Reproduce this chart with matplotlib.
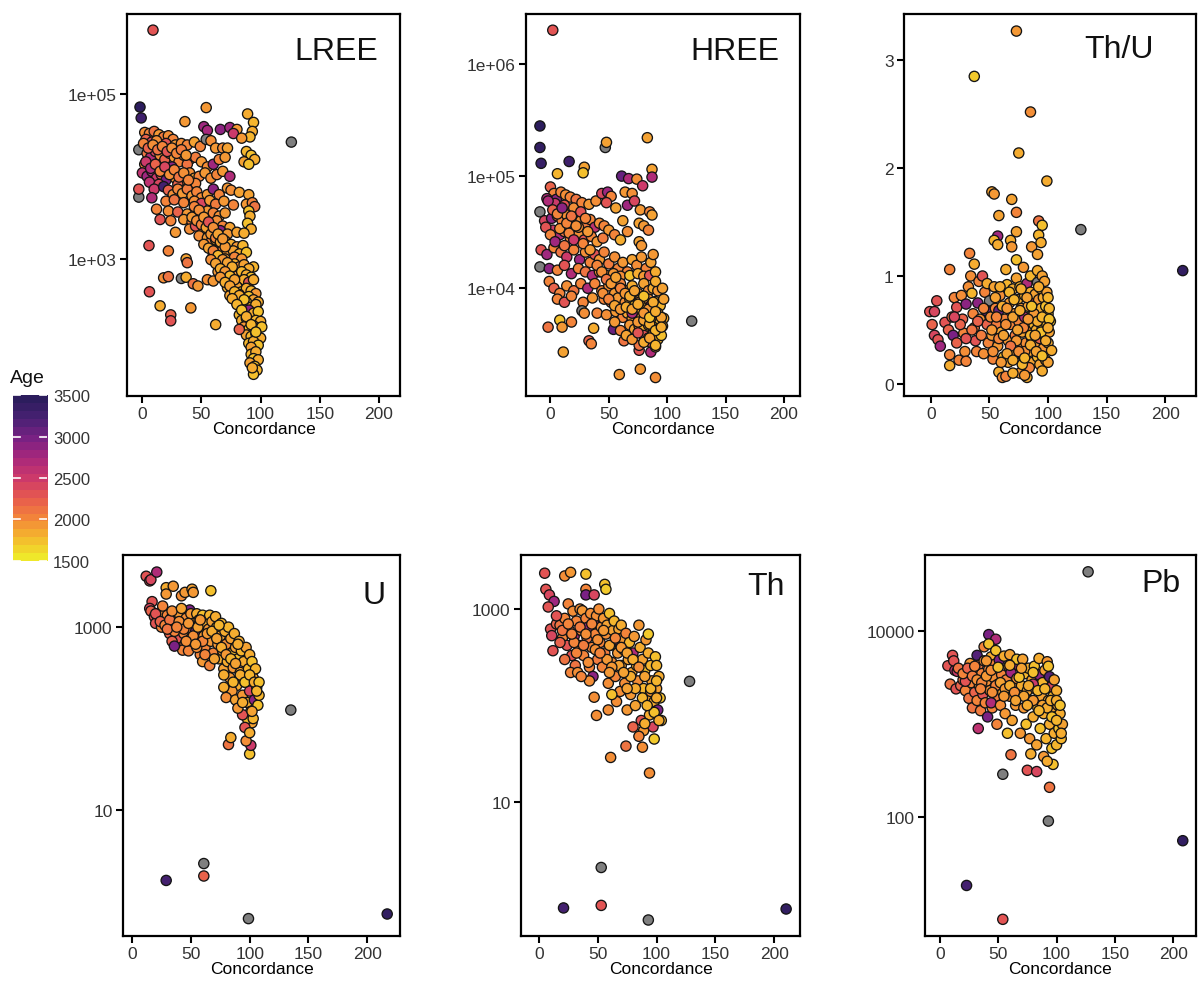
import numpy as np
import matplotlib
matplotlib.use("Agg")
import matplotlib.pyplot as plt
from matplotlib.colors import LinearSegmentedColormap, Normalize

plt.rcParams['font.family'] = ['Liberation Sans', 'DejaVu Sans']
nan = np.nan

# ---------------- LREE ----------------
lree_conc = [
    9, -2, -1, 126, -3, -3,
    54, 89, 94, 93, 91, 36, 52, 55, 66, 74, 80, 77, 84,
    5.6, 6, 15, 24, 24, 41, 62, 22, 37, 38, 18, 22, 33, 37, 43, 47, 55, 60,
    2, 6, 10, 14, 18, 22, 26, 3, 8, 12, 20, 28, 33, 38, 44, 49, 54, 58, 62, 68, 72,
    4, 7, 11, 15, 19, 23, 27, 31, 35, 40, 45, 50, 55, 60, 65, 70, 88, 92, 95, 86, 90, 2, 12, 25, 38,
    0, 4, 8, 12, 16, 20, 24, 28, 32, 36, 40, 44, 48, 53, 58, 63, 68, 74, 6, 14, 30, 45,
    -3, 10, 18, 22, 26, 30, 34, 38, 42, 46, 50, 55, 60, 65, 72, 75, 82, 90, 8, 20, 27, 35, 44, 50, 57, 62, 69, 77, 88, 93, 95,
    12, 22, 30, 38, 45, 50, 55, 60, 65, 70, 90, 91, 15, 24, 35, 42, 48, 53, 58, 63, 68, 74, 89, 92, 40, 45, 52, 60, 66, 72, 80, 86, 28,
    48, 55, 58, 62, 66, 70, 75, 80, 85, 68, 72, 77, 82, 88, 60, 64, 70, 78, 84, 94,
    62, 66, 70, 74, 78, 82, 86, 90, 64, 68, 72, 76, 80, 84, 88, 92, 70, 74, 78, 82, 86, 90, 94,
    72, 76, 80, 84, 88, 92, 96, 74, 78, 82, 86, 90, 94, 98, 80, 84, 88, 92, 96, 86, 90, 94, 98, 82,
    84, 88, 92, 96, 100, 86, 90, 94, 98, 88, 92, 96, 100, 90, 94, 98, 92, 101, 82,
    92, 96, 94, 98, 91, 95, 97, 94, 93,
    42, 46, 50, 54, 58, 62, 66, 70, 44, 48, 52, 56, 60, 64, 68, 52, 56, 60, 64, 68, 72, 76, 58, 62, 66, 70, 74, 78, 66, 70, 74, 78, 82, 86, 76, 80, 84, 88, 92, 96,
    1, 5, 9, 13, 17, 21, 25, 29, 33, 37, 3, 7, 11, 15, 19, 23, 27, 31, 35, 39,
]
lree_val = [
    590000, 69000, 51000, 26000, 21000, 5600,
    68000, 57000, 45000, 35000, 30000, 46000, 40000, 36000, 37000, 39000, 37000, 33000, 29000,
    1450, 400, 270, 210, 178, 255, 160, 1250, 1000, 900, 590, 610, 580, 600, 500, 470, 560, 540,
    34000, 33000, 35000, 32000, 30000, 31000, 28000, 28000, 26000, 27000, 25000, 24000, 25000, 24000, 26000, 23000, 28000, 27000, 22000, 22000, 22000,
    19000, 17000, 20000, 18000, 16000, 19000, 17000, 15000, 18000, 16000, 17000, 15000, 13000, 14000, 16000, 17000, 20000, 18000, 16000, 15000, 14000, 14000, 13000, 13000, 14000,
    11000, 10000, 11500, 9500, 10500, 9000, 11000, 9500, 10500, 9000, 11000, 9500, 10000, 11000, 9500, 10500, 11500, 10000, 8500, 8000, 8000, 8200,
    7000, 7000, 7500, 6800, 6000, 7000, 6200, 7000, 5800, 6500, 5500, 6000, 7000, 6000, 7200, 6800, 6400, 6000, 5500, 5000, 5200, 4800, 5000, 4700, 5100, 4600, 5000, 4500, 4600, 4800, 4300,
    4000, 3800, 3700, 3500, 4000, 3500, 3800, 3600, 3300, 3600, 3800, 3300, 3000, 2900, 3000, 2800, 3100, 2700, 2600, 2900, 2500, 2400, 2700, 2300, 2300, 2500, 2200, 2100, 2200, 2000, 2100, 2050, 2100,
    1900, 1800, 1600, 1700, 1500, 1650, 1500, 1400, 1450, 1300, 1200, 1250, 1150, 1200, 1150, 1050, 1000, 1050, 1000, 800,
    920, 850, 900, 820, 870, 800, 850, 760, 700, 650, 720, 680, 620, 700, 640, 600, 560, 520, 540, 500, 560, 520, 560,
    450, 420, 460, 400, 440, 410, 380, 360, 340, 370, 330, 350, 320, 300, 290, 270, 300, 260, 280, 230, 240, 220, 230, 210,
    180, 190, 170, 180, 175, 150, 140, 155, 145, 120, 115, 125, 110, 95, 100, 90, 85, 150, 140,
    70, 75, 62, 60, 55, 50, 45, 40, 48,
    3200, 2900, 2600, 2400, 2000, 1800, 1600, 1400, 4300, 3900, 3200, 2800, 2400, 2000, 1750, 1500, 1350, 1250, 1100, 980, 900, 800, 980, 880, 760, 700, 620, 560, 600, 520, 470, 400, 360, 320, 330, 280, 240, 200, 160, 130,
    25000, 22000, 24000, 21000, 23000, 20000, 22000, 19000, 21000, 18000, 15000, 12500, 14000, 11500, 13000, 10500, 12000, 9800, 11000, 9000,
]
lree_age = [
    2300, 3500, 3350, nan, nan, nan,
    1900, 1800, 1750, 1800, 1750, 1900, 2800, 2750, 2900, 2800, 1900, 2500, 1900,
    2300, 2300, 1800, 2200, 2300, 1900, 1800, 2000, 1850, 2100, 1950, 2100, nan, 1800, 2100, 1900, 1950, 1900,
    1950, 2000, 2100, 1900, 2050, 1950, 2000, 2200, 2400, 1950, 2300, 1900, 1950, 2000, 1850, 2000, nan, 1950, 1900, 1950, 1850,
    2100, 2700, 2400, 1950, 2200, 2000, 1900, 2000, 1950, 2000, 2050, 1900, 1950, 2800, 2000, 1900, 1750, 1700, 1800, 1850, 1700, 2000, 2200, 2900, 2100,
    2600, 2800, 2700, 2500, 2300, 3000, 2000, 1900, 2050, 2000, 1950, 1850, 2000, 1900, 1950, 2000, 1900, 2700, 2600, 2400, 2200, 2000,
    2300, 2500, 3300, 2200, 1950, 2000, 1900, 2050, 1900, 2000, 1950, 1900, 2900, 2000, 1900, 1950, 1850, 1850, 2700, 2000, 2100, 2000, 1950, 2400, 1900, 2050, 1900, 2000, 1900, 2000, 2100,
    2000, 1950, 2200, 1900, 1950, 2800, 1900, 2000, 1950, 1900, 1700, 1800, 2300, 2000, 1900, 2000, 1950, 2000, 3100, 1950, 2000, 1850, 1700, 1800, 1950, 2300, 1900, 1950, 2900, 1900, 1850, 1800, 1900,
    1950, 1900, 2000, 1850, 1900, 1950, 1800, 1900, 1750, 2000, 1900, 1850, 1800, 1700, 1950, 1900, 1850, 2000, 1900, 1750,
    1900, 1950, 1850, 1900, 1800, 1950, 1850, 1800, 1900, 1800, 1950, 1850, 1900, 1750, 1800, 1700, 1900, 1850, 1750, 1950, 1800, 2300, 1800,
    1800, 1900, 1850, 1700, 1800, 1750, 1900, 1850, 1750, 2200, 1800, 1700, 1850, 1800, 1800, 2100, 1700, 1750, 1800, 1850, 2900, 1800, 1700, 1750,
    1800, 1700, 1850, 1750, 1800, 1900, 1700, 1800, 1750, 1850, 1750, 1700, 1800, 1750, 1800, 1700, 1850, 1700, 2200,
    1750, 1800, 1700, 1800, 1850, 1700, 1750, 1700, 1800,
    1900, 1950, 2000, 1850, 1900, 2000, 1850, 1900, 2000, 1950, 1900, 2300, 1950, 1850, 1900, 1900, 1850, 2000, 1750, 1900, 1850, 1800, 1950, 1850, 1800, 1900, 1750, 1850, 1900, 1800, 1850, 1750, 1800, 1700, 1800, 1750, 1700, 1800, 1750, 1700,
    2000, 2200, 1950, 2100, 2000, 2300, 1950, 2000, 2050, 1900, 2500, 2700, 2200, 2000, 2400, 1950, 2000, 2100, 1950, 2000,
]

# ---------------- HREE ----------------
hree_conc = [
    2, -9, -9, -8, 16, 47, 48, 83, 121, -9, -9,
    6, 29, 28, 87, 87, 61, 67, 74, 79,
    11, 59, 77, 90, -2, 8, 10, 18, 33, 35, 37, 54, 63, 76, 76, 86,
    0, 3, -3, 5, 9, 13, 17, 22, 4, 12, 20, 27, 33, 39, 44, 49, 52, 48, 56, 64, 70, 66, 77, 72, 85, 87,
    -5, 1, 6, 10, 14, 18, 22, 26, 30, 34, 38, 42, 46, 50, 55, 62, 66, 76, 80, 84, 2, 8, 12, 17, 24, 29, 35, 40, 45, 60, 76, 78,
    -8, -3, 3, 9, 14, 20, 25, 30, 34, 38, 42, 46, 50, 55, 58, 62, 66, 70, 74, 78, 82, 86, 88, -1, 6, 12, 18, 24, 30, 36, 42, 48, 54, 60, 68, 75, 80, 85, 90,
    -1, 3, 8, 14, 20, 26, 32, 38, 44, 50, 55, 60, 65, 70, 75, 80, 84, 88, 92, 90, 96, 6, 12, 18, 28, 36, 46, 52, 58, 64, 68, 72, 76, 80, 84, 86, 90, 94, 97, 27, 29,
    40, 48, 56, 62, 66, 70, 74, 78, 82, 86, 90, 94, 97, 68, 72, 76, 80, 84, 88, 92, 96, 80, 84, 88, 92, 95, 86, 90,
    40, 44, 48, 52, 56, 60, 64, 68, 72, 76, 80, 84, 88, 92, 45, 50, 55, 60, 65, 70, 75, 80, 85, 90, 95, 55, 60, 65, 70, 75, 80, 85, 90, 95, 70, 75, 80, 85, 90,
    -4, 0, 4, 8, 12, 16, 20, 24, 28, 32, -2, 2, 6, 10, 14, 18, 22, 26, 30, 34,
]
hree_val = [
    2.0e6, 2.8e5, 1.8e5, 1.3e5, 1.35e5, 1.8e5, 2.0e5, 2.2e5, 5100, 48000, 15500,
    105000, 120000, 107000, 115000, 98000, 100000, 95000, 94000, 82000,
    2700, 1700, 1900, 1600, 4500, 5200, 4500, 5000, 3400, 3200, 4400, 4300, 3400, 2800, 3100, 2700,
    80000, 70000, 63000, 62000, 72000, 68000, 65000, 62000, 57000, 55000, 52000, 58000, 56000, 60000, 70000, 72000, 66000, 58000, 52000, 72000, 70000, 55000, 50000, 60000, 48000, 45000,
    40000, 42000, 44000, 40000, 45000, 38000, 43000, 40000, 37000, 41000, 35000, 38000, 36000, 33000, 30000, 40000, 32000, 38000, 36000, 33000, 33000, 30000, 32000, 28000, 30000, 27000, 29000, 26000, 28000, 27000, 26000, 24000,
    22000, 20000, 23000, 21000, 19000, 22000, 18000, 21000, 17000, 20000, 18000, 21000, 16500, 19000, 15000, 17000, 14000, 18000, 16000, 19000, 15000, 17000, 20000, 15000, 14500, 16000, 13500, 15000, 14000, 13000, 14000, 13000, 13500, 12800, 13000, 13500, 12800, 13000, 14000,
    11500, 10000, 9000, 10500, 9500, 11000, 10000, 11000, 9500, 10500, 9000, 11000, 9500, 10500, 9000, 11000, 9500, 10000, 9500, 11500, 10000, 8000, 7500, 8500, 7500, 8200, 8000, 7500, 8200, 7500, 8000, 7000, 7800, 7200, 8000, 7000, 7600, 7000, 8000, 6300, 6000,
    6000, 5800, 6200, 5500, 6000, 5400, 5900, 5500, 5700, 5200, 5500, 5000, 5400, 4700, 4300, 4600, 4300, 4700, 4500, 4300, 4600, 3800, 3600, 3900, 3500, 3800, 3300, 3000,
    16000, 14000, 12000, 11000, 12500, 10000, 9000, 8500, 9500, 7500, 8500, 6500, 7500, 6000, 9000, 8000, 7000, 6500, 6800, 6000, 5000, 5200, 4800, 4200, 5500, 5000, 4200, 3800, 3500, 4000, 3300, 3600, 3100, 4500, 6500, 7200, 6000, 5500, 6200,
    35000, 30000, 26000, 34000, 24000, 31000, 27000, 35000, 25000, 32000, 60000, 50000, 46000, 52000, 38000, 44000, 36000, 48000, 42000, 22000,
]
hree_age = [
    2300, 3500, 3450, 3400, 3350, nan, 1850, 1850, nan, nan, nan,
    1750, 1850, 1700, 1850, 2700, 3100, 2700, 1950, 2500,
    1850, 1900, 1900, 1950, 2100, 1700, 1900, 2000, 2200, 2000, 1800, 3100, 2100, 2300, 2100, 2700,
    2200, 2000, 2700, 2900, 2000, 1950, 2000, 2100, 2500, 2300, 1950, 2000, 1900, 1950, 2400, 2800, 2000, 2300, 1850, 1900, 1950, 2800, 1900, 2400, 2000, 1850,
    2400, 2900, 2200, 2000, 1950, 2100, 2000, 1950, 2050, 2000, 2600, 1950, 2000, 1900, 2000, 1850, 1950, 1850, 1900, 2000, 2500, 2700, 2100, 2000, 1950, 2300, 2000, 1900, 2050, 1800, 1850, 1900,
    2300, 2800, 2000, 2100, 2500, 2000, 2800, 1950, 2000, 2300, 1900, 2000, 2050, 1950, 2000, 1900, 2000, 1850, 1950, 1900, 2000, 1850, 1900, 2900, 2000, 2300, 2700, 2000, 2100, 2700, 1950, 2000, 1900, 1950, 1700, 1800, 1900, 2300, 1800,
    2000, 2200, 2000, 1950, 2100, 2000, 2700, 2000, 2000, 1950, 1900, 2000, 1950, 1800, 1900, 1850, 1950, 1800, 1900, 1800, 1850, 2000, 2300, 2000, 2000, 1900, 2000, 2100, 1900, 1950, 1800, 1700, 1900, 1850, 1950, 2800, 1800, 1750, 1850, nan, 1950,
    2000, 1950, 1900, 2000, 1850, 1900, 1750, 1850, 1900, 1800, 1850, 1750, 1800, 1900, 1850, 2000, 1800, 1900, 1800, 1700, 1850, 2300, 1950, 1800, 1750, 1700, 2300, 1850,
    2000, 1950, 2100, 1900, 1850, 2000, 1900, 1800, 1850, 1950, 1700, 1900, 1800, 1850, 1950, 2000, 1850, 1900, 1800, 2700, 1900, 1850, 1800, 1750, 1850, 1900, 2000, 1850, 1900, 2300, 1800, 1850, 1750, 1800, 1850, 1800, 1900, 1700, 1800,
    2300, 2000, 2800, 1950, 2100, 2000, 2500, 1950, 2000, 1900, 2700, 2200, 2000, 2900, 2000, 2100, 1950, 2300, 2000, 1900,
]

# ---------------- Th/U ----------------
thu_conc = [
    73, 37, 85, 75, 99, 52, 54, 69, 73, 58, 92, 95, 128, 215,
    57, 54, 57, 73, 68, 69, 86, 92, 94, 91, 33, 37, 16,
    -1, 3, 5, 1, 3, 6, 8, 12, 15, 16, 16, 18, 20, 22, 19, 22, 24, 26, 27, 28, 29, 30, 30,
    32, 34, 35, 36, 37, 38, 39, 40, 41, 42, 43, 44, 45, 46, 47, 48, 48, 49, 50, 51, 52, 53, 54, 55, 56, 57, 58, 58, 59, 60, 61, 62, 63, 64, 65, 66, 64,
    67, 68, 69, 70, 71, 72, 73, 73, 74, 74, 75, 76, 76, 77, 78, 79, 79, 80, 80, 81, 82, 82, 83, 83, 84, 85, 85, 86, 86, 87, 87, 88, 91, 89, 89, 90, 90, 91, 91, 92, 92, 93, 93, 94, 94, 95, 95, 96, 96, 97, 97, 98, 98, 99, 99, 100, 100, 101, 101, 102, 103, 100, 95, 84, 80, 70, 66, 78,
    52, 55, 58, 61, 64, 67, 70, 73, 76, 79, 82, 85, 88, 91, 94, 97, 100, 53, 56, 59, 62, 65, 68, 71, 74, 77, 80, 83, 86, 89, 92, 95, 98, 101, 60, 65, 70, 75, 80, 85, 90, 95, 100, 45, 40, 35, 30, 25, 20,
]
thu_val = [
    3.27, 2.85, 2.52, 2.14, 1.88, 1.78, 1.76, 1.71, 1.59, 1.56, 1.51, 1.47, 1.43, 1.05,
    1.37, 1.33, 1.29, 1.41, 1.33, 1.27, 1.27, 1.38, 1.31, 1.20, 1.21, 1.11, 1.06,
    0.67, 0.67, 0.77, 0.55, 0.45, 0.41, 0.35, 0.57, 0.50, 0.27, 0.17, 0.62, 0.80, 0.71, 0.45, 0.38, 0.22, 0.82, 0.60, 0.47, 0.30, 0.21, 0.74,
    0.90, 1.00, 0.84, 0.65, 0.52, 0.40, 0.30, 0.75, 0.95, 0.60, 0.45, 1.00, 0.28, 0.85, 0.68, 0.55, 0.93, 0.38, 0.77, 0.62, 0.45, 0.23, 0.90, 0.70, 0.55, 0.35, 0.68, 0.11, 0.82, 0.48, 0.06, 0.25, 0.60, 0.07, 0.92, 0.40, 1.06,
    0.75, 0.55, 0.30, 0.88, 0.65, 0.45, 1.15, 0.98, 0.78, 0.35, 0.58, 0.10, 0.90, 0.70, 0.48, 1.08, 0.25, 0.82, 0.62, 0.38, 0.93, 0.06, 0.72, 0.52, 0.30, 1.00, 0.85, 0.62, 0.42, 0.20, 0.75, 0.55, 0.94, 0.35, 0.83, 0.68, 0.50, 1.05, 0.25, 0.78, 0.60, 0.42, 0.18, 0.88, 0.70, 1.00, 0.52, 0.33, 0.80, 0.62, 0.45, 0.72, 0.22, 0.85, 0.55, 0.38, 0.65, 0.48, 0.70, 0.58, 0.31, 0.20, 0.12, 0.15, 0.08, 0.10, 0.20, 0.18,
    0.50, 0.80, 0.42, 0.72, 0.55, 0.85, 0.62, 0.40, 0.68, 0.52, 0.80, 0.45, 0.65, 0.58, 0.48, 0.95, 0.80, 0.30, 0.62, 0.90, 0.45, 0.70, 0.35, 0.78, 0.50, 0.88, 0.30, 0.60, 0.72, 0.45, 0.90, 0.62, 0.40, 0.60, 0.20, 0.28, 0.22, 0.30, 0.24, 0.36, 0.30, 0.26, 0.52, 0.70, 0.58, 0.50, 0.42, 0.55, 0.62,
]
thu_age = [
    1900, 1650, 1950, 1800, 1800, 1850, 1900, 1850, 2000, 1850, 2100, 1700, nan, 3450,
    2800, 1750, 1800, 1850, 1800, 1900, 1900, 1750, 1800, 1850, 2000, 1800, 2000,
    2300, 2400, 2300, 2200, 2400, 2300, 2800, 2300, 2200, 2000, 1800, 2100, 2000, 2300, 3000, 2200, 2000, 1950, 2200, 2000, 1950, 2000, 2900,
    1950, 1950, 1750, 2000, 2100, 2300, 2000, 2900, 2000, 1950, 2050, 2300, 1950, 2000, 3000, 2200, 1800, 2000, nan, 1950, 1900, 2000, 1850, 2000, 2050, 1900, 3100, 1800, 1950, 1850, 1950, 1750, 2000, 2000, 1750, 1900, 1800,
    1900, 2000, 1850, 1800, 1950, 2050, 1700, 1850, 1800, 1900, 2000, 1900, 1750, 1900, 1850, 1900, 2000, 1800, 2700, 1950, 2700, 1800, 1850, 1900, 1850, 1750, 1800, 2000, 1950, 1850, 2500, 1750, nan, 1900, 1850, 2800, 1800, 1800, 1750, 1900, 1850, 2200, 1850, 1750, 1800, 1850, 1700, 1900, 1800, 1750, 1850, 1700, 1800, 1850, 1750, 1800, 1700, 1850, 1750, 1700, 1800, 1850, 1800, 2000, 1900, 1800, 1850, 1750,
    1900, 1850, 2000, 1800, 1950, 1750, 1850, 1900, 1800, 2000, 1850, 1750, 1900, 1800, 1700, 1850, 1750, 1950, 2000, 1800, 1850, 1900, 2100, 1750, 1850, 1800, 1950, 1900, 1700, 1850, 1800, 1750, 1800, 1700, 1900, 1850, 1800, 1950, 1750, 1800, 1850, 1700, 1800, 2000, 2200, 2100, 2300, 2200, 2400,
]

# ---------------- U ----------------
u_conc = [
    12, 15, 16, 21, 29, 61, 61, 99, 217, 135, 100, 82, 84, 101, 97,
    29, 35, 29, 42, 45, 51, 52, 67, 49, 17, 15,
    16, 19, 22, 24, 26, 28, 30, 20, 25, 30, 33,
    32, 34, 36, 38, 38, 40, 42, 44, 45, 46, 48, 50, 50, 43, 34, 48, 36,
    52, 54, 55, 56, 57, 58, 59, 60, 61, 62, 63, 64, 65, 66, 67, 68, 69, 70, 55, 60, 66,
    71, 72, 73, 74, 75, 76, 77, 78, 79, 80, 81, 82, 83, 84, 85, 86, 87, 88, 89, 90, 85, 78, 80, 88,
    91, 92, 93, 94, 95, 96, 97, 98, 99, 100, 100, 101, 102, 103, 104, 105, 106, 107, 108, 102, 98, 94, 90, 96, 100, 103,
    20, 24, 28, 32, 36, 40, 44, 48, 52, 56, 60, 64, 68, 72, 76, 80, 84, 88, 92, 96, 100, 104, 30, 38, 46, 54, 62, 70, 78, 86, 94, 102, 108, 26, 34, 42, 58, 74, 90, 106,
]
u_val = [
    3600, 3200, 3300, 4000, 1.7, 2.6, 1.9, 0.65, 0.73, 124, 41, 52, 62, 51, 57,
    2700, 2800, 2300, 2200, 2400, 2600, 2400, 2500, 1540, 1900, 1600,
    1500, 1300, 1250, 1450, 1200, 1400, 1100, 1100, 1000, 1350, 1000,
    850, 1300, 1150, 950, 750, 1400, 1050, 850, 650, 1250, 980, 750, 1400, 560, 700, 550, 620,
    1100, 900, 1400, 700, 1200, 500, 1000, 1350, 800, 600, 1100, 450, 950, 1350, 700, 1150, 520, 850, 600, 420, 380,
    1300, 1000, 650, 450, 800, 1100, 550, 350, 900, 650, 420, 1000, 280, 750, 520, 360, 850, 600, 230, 450, 200, 220, 170, 160,
    700, 320, 550, 180, 420, 250, 600, 150, 350, 500, 200, 120, 420, 280, 160, 350, 220, 140, 180, 90, 100, 110, 130, 80, 70, 100,
    1400, 1150, 1050, 1200, 900, 1150, 950, 1100, 800, 1000, 700, 850, 900, 750, 600, 500, 450, 400, 300, 250, 300, 250, 950, 1000, 700, 650, 500, 450, 300, 250, 150, 120, 250, 1700, 1500, 1600, 1200, 1050, 650, 200,
]
u_age = [
    2300, 2300, 2400, 2700, 3300, nan, 2200, nan, 3450, nan, 1700, 2100, 1800, 2500, 1950,
    1800, 1900, 1900, 1950, 1900, 1850, 1900, 1700, 3000, 2300, 2400,
    2200, 2300, 2200, 2000, 2100, 1950, 2200, 2300, 2000, 2000, 2000,
    2200, 2000, 1950, 2800, 2300, 1900, 2000, 2000, 2100, 1950, 2000, 2000, 1900, 2000, 2200, 2000, 3000,
    1900, 3100, 1800, 2000, 1850, 2000, 1950, 1700, 1900, 2000, 1800, 1950, 1900, 1750, 1900, 1850, 2000, 1850, 1950, 1900, 2000,
    1800, 1700, 1900, 1800, 1850, 1750, 1900, 1850, 1800, 1950, 1800, 1750, 1900, 1850, 1700, 1900, 1800, 1850, 1800, 1700, 1900, 1800, 1950, 1850,
    1800, 1850, 1750, 1900, 1800, 1700, 1850, 1800, 1750, 1800, 2400, 1800, 1700, 1850, 2900, 1750, 1800, 1700, 1750, 1850, 1700, 2300, 1900, 2300, 1800, 1750,
    2300, 2200, 2000, 2100, 2000, 1950, 2000, 1900, 1950, 1850, 2000, 1900, 1800, 1850, 1800, 1900, 1750, 1850, 1800, 1700, 1750, 1800, 2100, 2000, 1950, 1900, 2000, 1850, 1800, 1750, 1800, 1850, 1700, 2000, 1950, 1850, 1900, 1750, 1800, 1750,
]

# ---------------- Th ----------------
th_conc = [
    5, 22, 27, 40, 56, 57, 40, 40, 47, 6, 9, 13, 8, 128, 61, 94, 74, 88, 49, 47, 59, 53, 53, 21, 93, 210,
    10, 11, 12, 15, 18, 20, 22, 24, 25, 26, 28, 29, 30, 31, 27, 33,
    32, 34, 35, 36, 37, 38, 40, 41, 42, 43, 44, 45, 46, 47, 48, 49, 50, 43, 36,
    51, 52, 53, 54, 55, 56, 57, 58, 59, 60, 61, 62, 63, 64, 65, 66, 67, 68, 69, 70, 70, 66, 62,
    71, 72, 73, 74, 75, 76, 77, 78, 79, 80, 81, 82, 83, 84, 85, 86, 87, 88, 89, 89, 80, 85, 90,
    91, 92, 93, 93, 94, 95, 96, 97, 98, 99, 100, 100, 101, 102, 103, 104, 98, 95,
    15, 20, 25, 30, 35, 40, 45, 50, 55, 60, 65, 70, 75, 80, 85, 90, 95, 100, 18, 28, 38, 48, 58, 68, 78, 88, 98, 22, 32, 42, 52, 62, 72, 82, 92, 102, 60, 75, 90, 100,
]
th_val = [
    2350, 2200, 2400, 2300, 1800, 1600, 1600, 1400, 1400, 1600, 1400, 1200, 1050, 178, 29, 20, 38, 37, 79, 122, 90, 2.1, 0.85, 0.8, 0.6, 0.78,
    620, 530, 370, 700, 680, 500, 800, 420, 1130, 600, 330, 950, 520, 260, 220, 220,
    750, 420, 1000, 600, 960, 330, 800, 500, 650, 250, 900, 400, 200, 700, 550, 850, 300, 180, 200,
    1000, 450, 650, 250, 800, 350, 550, 680, 170, 900, 420, 280, 600, 750, 200, 480, 350, 620, 140, 680, 260, 110, 130,
    500, 380, 170, 560, 90, 300, 450, 130, 220, 350, 520, 100, 260, 180, 680, 400, 70, 300, 150, 55, 60, 48, 230,
    480, 120, 550, 350, 80, 260, 180, 60, 110, 320, 260, 150, 90, 200, 120, 70, 45, 140,
    850, 600, 700, 450, 650, 550, 700, 480, 600, 420, 500, 400, 350, 300, 250, 200, 150, 120, 450, 550, 420, 380, 300, 260, 200, 120, 85, 300, 350, 280, 350, 250, 220, 150, 100, 70, 220, 150, 65, 180,
]
th_age = [
    2300, 1950, 1900, 1700, 1700, 1650, 2000, 3000, 2400, 2300, 2400, 2800, 2300, nan, 1950, 1950, 2100, 1950, 1950, 1950, 1950, nan, 2300, 3300, nan, 3450,
    2300, 2400, 2300, 2200, 2100, 2000, 2000, 2300, 2000, 2100, 2300, 1950, 2700, 2100, 2000, 1950,
    2000, 2050, 1950, 2000, 1900, 2000, 2000, 2100, 2800, 2000, 1950, 2000, 2900, 2700, 2000, 1950, 2050, 1950, 2000,
    1950, 2000, 1950, 2000, 1900, 2050, 1950, 1850, 1950, 1700, 1900, 1950, 1850, 1750, 2000, 2900, 1900, 1850, 1950, 1800, 1850, 1950, 1700,
    1900, 1850, 1950, 2000, 1900, 1850, 1750, 1900, 1850, 2700, 1900, 1850, 1800, 1950, 1900, 1800, 2300, 1850, 1750, 1900, 2200, 2000, 1700,
    1900, 1850, 1650, 1800, 1800, 1750, 1850, 2400, 1800, 1700, 1750, 1850, 3000, 1800, 1700, 1750, 1650, 1900,
    2300, 2100, 2000, 2000, 2050, 1950, 2000, 1950, 1900, 1850, 2000, 1900, 1850, 1800, 1950, 1850, 1750, 1800, 2200, 2000, 2050, 1950, 1900, 1850, 1800, 1750, 1700, 2100, 2000, 1950, 2000, 1900, 1850, 1800, 1750, 1800, 1900, 1850, 1800, 1750,
]

# ---------------- Pb ----------------
pb_conc = [
    127, 208, 23, 54, 54, 93, 94, 75, 83, 61, 97, 42, 48, 38, 42, 33, 32, 11,
    7, 9, 13, 15, 14, 18, 20, 22, 24, 25, 26, 27, 28, 29, 30, 22,
    31, 32, 33, 34, 35, 36, 37, 38, 39, 40, 41, 42, 43, 44, 45, 46, 47, 48, 49, 50, 48, 44,
    51, 52, 53, 54, 55, 56, 57, 58, 59, 60, 61, 62, 63, 64, 65, 66, 67, 68, 69, 70, 60, 66,
    71, 72, 73, 74, 75, 76, 77, 78, 79, 80, 81, 82, 83, 84, 85, 85, 86, 87, 88, 89, 89, 90, 78, 80,
    91, 92, 93, 93, 94, 94, 95, 96, 96, 97, 98, 98, 99, 100, 100, 101, 102, 103, 104, 105, 92,
    12, 16, 20, 24, 28, 32, 36, 40, 44, 48, 52, 56, 60, 64, 68, 72, 76, 80, 84, 88, 92, 96, 100, 104, 35, 45, 55, 65, 75, 85, 95, 30, 40, 50, 60, 70, 80, 90, 100, 103,
]
pb_val = [
    43500, 56, 18.5, 8, 290, 91, 210, 320, 310, 470, 370, 9200, 8200, 6800, 7300, 900, 5500, 5500,
    4250, 2700, 3800, 3700, 2400, 2600, 3000, 2300, 3300, 1900, 4500, 2800, 1500, 3800, 2200, 2900,
    3200, 1800, 4300, 2600, 1400, 3500, 2100, 4800, 1700, 2900, 1200, 3900, 2300, 5300, 1500, 3200, 4400, 2000, 1000, 2700, 6200, 1700,
    4900, 1600, 3400, 2200, 5400, 1300, 3000, 800, 4200, 2000, 3600, 1100, 2600, 4800, 1600, 3100, 2100, 4200, 800, 2600, 5600, 5000,
    5000, 1500, 3500, 1000, 2300, 4000, 700, 1800, 3000, 1200, 4200, 2400, 600, 1500, 5100, 3400, 900, 2000, 2800, 450, 1300, 3800, 480, 2700,
    700, 4700, 4200, 1800, 3250, 1000, 2500, 550, 1400, 2000, 800, 3000, 1200, 2300, 600, 1600, 900, 1300, 700, 1000, 400,
    4800, 4000, 3500, 4000, 3300, 3000, 2800, 3300, 3800, 2600, 2800, 2400, 2600, 2200, 3200, 2000, 2600, 1800, 2300, 1600, 1500, 1200, 1100, 800, 2400, 2200, 2000, 1800, 1600, 1400, 1800, 4200, 4800, 4100, 4300, 4000, 3600, 2400, 1800, 1600,
]
pb_age = [
    nan, 3450, 3300, 2300, nan, nan, 2100, 2300, 2400, 2100, 1700, 3000, 2700, 2000, 1700, 2600, 3200, 2300,
    2300, 2100, 2600, 2500, 2300, 2200, 2100, 2000, 2300, 2100, 1900, 2000, 2100, 2000, 2200, 2300,
    1950, 2000, 2100, 1900, 2050, 2000, 2300, 1950, 2000, 1950, 3000, 2000, 1950, 1800, 2000, 1950, 2000, 2050, 2000, 1900, 1700, 2700,
    3000, 1950, 2000, 1850, 1800, 1900, 2000, 1700, 1900, 1950, 2800, 1850, 2000, 1750, 1900, 1950, 1850, 2700, 1900, 1800, 1850, 1700,
    1850, 1900, 1750, 1700, 1850, 1800, 1900, 1750, 1850, 1800, 1700, 1900, 1850, 1750, 1800, 2900, 1700, 1850, 1750, 1900, 1800, 1850, 1800, 2500,
    1750, 1900, 1700, 1850, 3200, 1800, 2400, 1700, 1850, 1750, 1800, 1850, 1700, 1800, 1750, 1850, 1700, 1800, 1750, 1850, 1800,
    2300, 2100, 2000, 2200, 2050, 1950, 2000, 1900, 1950, 2000, 1850, 1900, 1800, 1950, 1700, 1850, 1800, 1900, 1750, 1850, 1800, 1700, 1750, 1800, 2000, 1950, 1900, 1850, 1800, 1750, 1800, 2000, 1900, 1700, 1800, 1850, 1700, 1750, 1800, 1700,
]

age_ticks = [1500, 2000, 2500, 3000, 3500]
x_ticks = [0, 50, 100, 150, 200]

# colour scale (yellow -> orange -> pink -> purple -> dark indigo)
cmap = LinearSegmentedColormap.from_list(
    "age", ["#efe82a", "#f5b52e", "#f3843a", "#e75a4f", "#cd3a6a",
            "#a8287c", "#7b2184", "#4a2174", "#2c1d5d"])
norm = Normalize(1500, 3500)
NA_COL = "#7f7f7f"

fig = plt.figure(figsize=(11.98, 9.87), dpi=100)

panels = [
    ("LREE", lree_conc, lree_val, lree_age, [0.106, 0.598, 0.228, 0.387], (-13, 218), (22, 9.3e5), True,
     [1e3, 1e5], ["1e+03", "1e+05"], (0.919, 0.942)),
    ("HREE", hree_conc, hree_val, hree_age, [0.439, 0.598, 0.229, 0.387], (-21, 214), (1100, 2.8e6), True,
     [1e4, 1e5, 1e6], ["1e+04", "1e+05", "1e+06"], (0.923, 0.942)),
    ("Th/U", thu_conc, thu_val, thu_age, [0.7546, 0.598, 0.2434, 0.387], (-23, 226), (-0.11, 3.43), False,
     [0, 1, 2, 3], ["0", "1", "2", "3"], (0.857, 0.948)),
    ("U", u_conc, u_val, u_age, [0.1027, 0.0507, 0.2313, 0.386], (-7.7, 228), (0.42, 6150), True,
     [10, 1000], ["10", "1000"], (0.946, 0.935)),
    ("Th", th_conc, th_val, th_age, [0.435, 0.0507, 0.233, 0.386], (-15, 222), (0.41, 3630), True,
     [10, 1000], ["10", "1000"], (0.946, 0.957)),
    ("Pb", pb_conc, pb_val, pb_age, [0.772, 0.0507, 0.226, 0.386], (-12.7, 219), (5.3, 66000), True,
     [100, 10000], ["100", "10000"], (0.945, 0.965)),
]

for name, xs, ys, ages, pos, xlim, ylim, logy, yt, ytl, lab in panels:
    ax = fig.add_axes(pos)
    xs = np.asarray(xs, float)
    ys = np.asarray(ys, float)
    ages = np.asarray(ages, float)
    cols = [NA_COL if np.isnan(a) else cmap(norm(a)) for a in ages]
    ax.scatter(xs, ys, c=cols, s=54, edgecolors="#141414", linewidths=0.95, zorder=3)
    if logy:
        ax.set_yscale("log")
    ax.set_xlim(*xlim)
    ax.set_ylim(*ylim)
    ax.set_xticks(x_ticks)
    ax.set_xticklabels([str(t) for t in x_ticks])
    ax.set_yticks(yt)
    ax.set_yticklabels(ytl)
    ax.minorticks_off()
    for s in ax.spines.values():
        s.set_linewidth(1.6)
        s.set_color("black")
    ax.tick_params(axis="both", length=5, width=1.5, color="black", labelsize=12.5,
                   labelcolor="#333333", pad=2.5)
    ax.set_xlabel("Concordance", fontsize=12.5, color="black", labelpad=0)
    ax.text(lab[0], lab[1], name, transform=ax.transAxes, ha="right", va="top",
            fontsize=23, color="#111111")

# colour bar legend
cax = fig.add_axes([0.0105, 0.4276, 0.029, 0.1742])
grad = np.linspace(1500, 3500, 21).reshape(-1, 1)
cax.imshow(grad, aspect="auto", cmap=cmap, norm=norm, origin="lower",
           extent=[0, 1, 1500, 3500], interpolation="nearest")
cax.set_xlim(0, 1)
cax.set_ylim(1460, 3540)
for t in age_ticks:
    cax.plot([0, 0.2], [t, t], color="white", lw=1.2)
    cax.plot([0.8, 1.0], [t, t], color="white", lw=1.2)
for s in cax.spines.values():
    s.set_visible(False)
cax.set_xticks([])
cax.yaxis.tick_right()
cax.set_yticks(age_ticks)
cax.set_yticklabels([str(t) for t in age_ticks])
cax.tick_params(axis="y", length=0, labelsize=12, labelcolor="#333333", pad=4)
fig.text(0.008, 0.617, "Age", fontsize=14, ha="left", va="center", color="#111111")

fig.savefig("out.png", dpi=100)
